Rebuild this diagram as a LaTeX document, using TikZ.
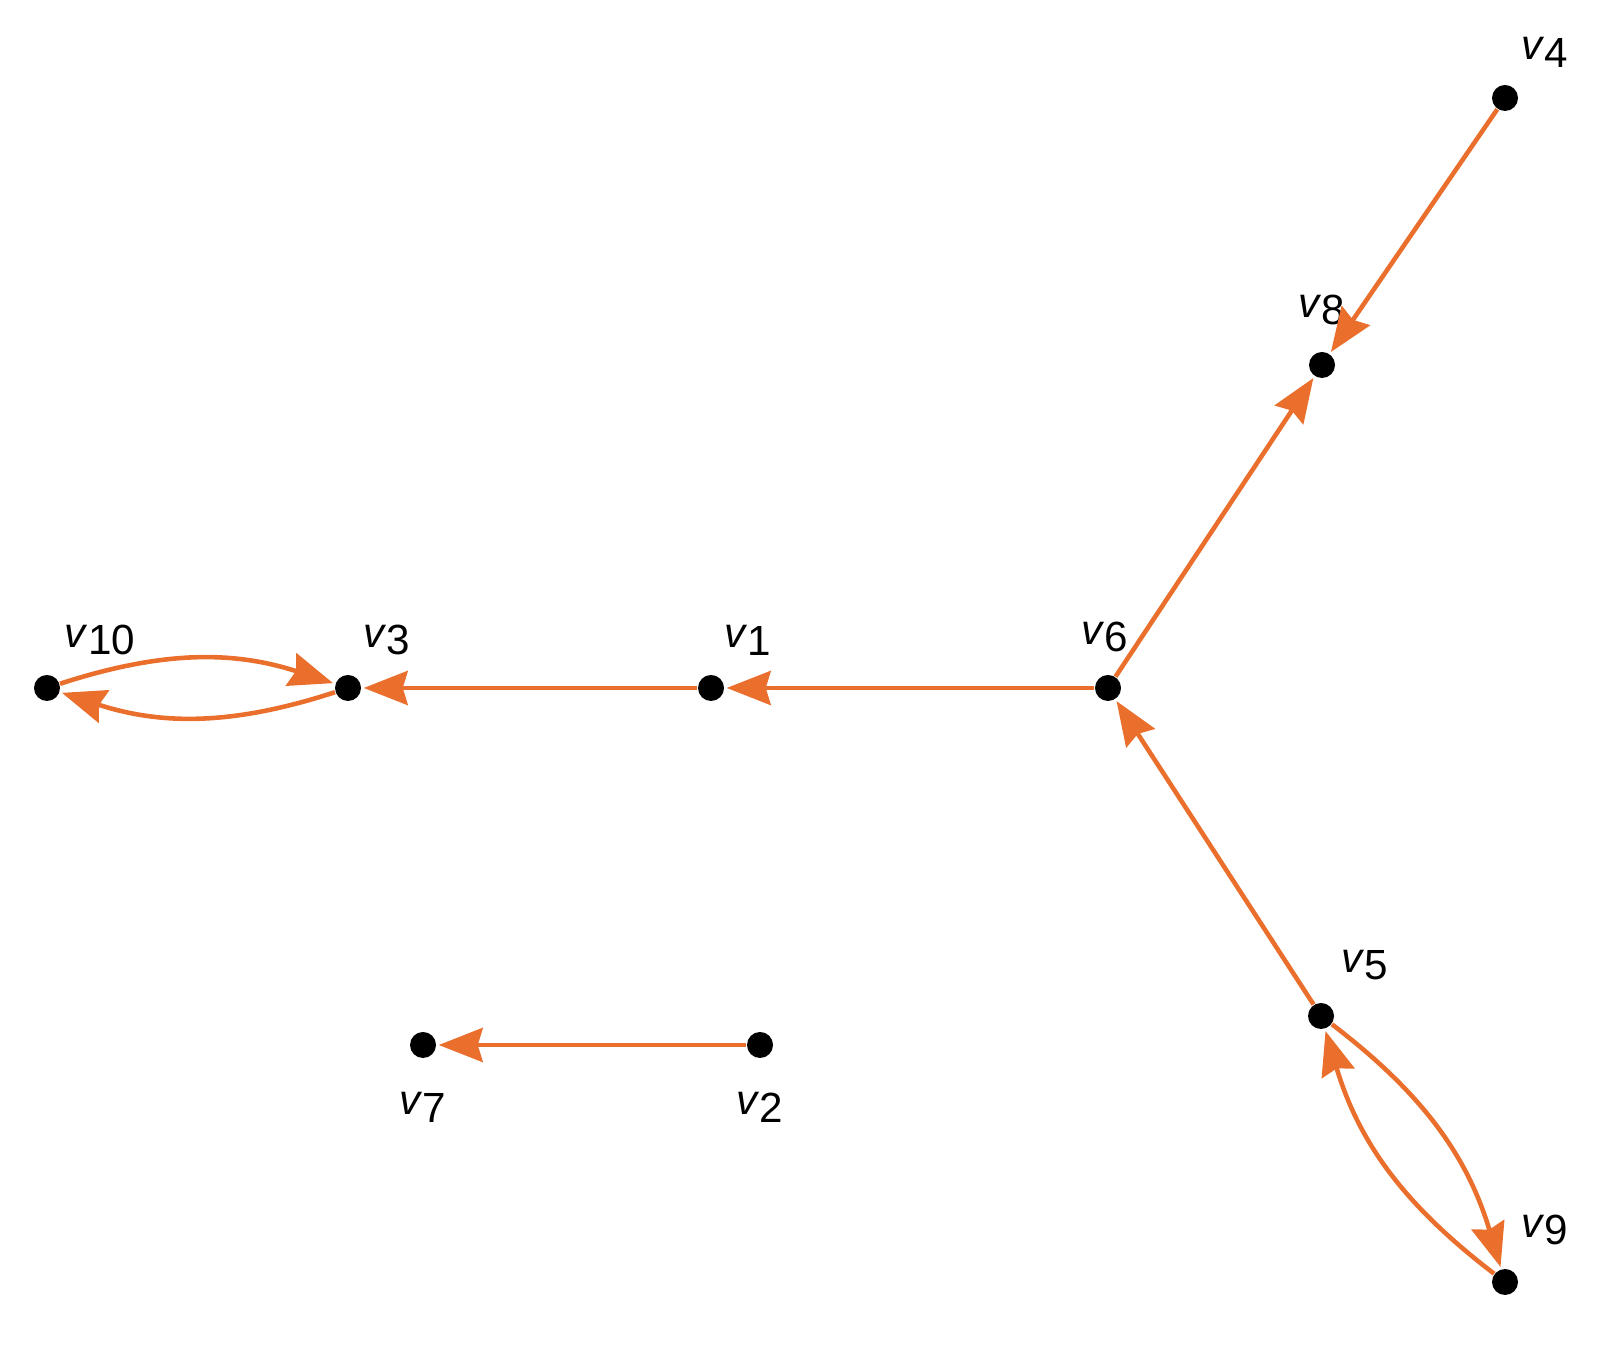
\documentclass[tikz,border=0pt]{standalone}
\usepackage{fontspec}
\setmainfont{Liberation Sans}
\usetikzlibrary{arrows.meta, positioning}

\definecolor{edgeorange}{RGB}{234,110,44}
\newcommand{\vname}[1]{\textit{v}\raisebox{-0.35ex}{#1}}

\tikzset{
  vertex/.style={circle, fill=black, inner sep=0pt, minimum size=0.26cm},
  vlabel/.style={inner sep=0pt, font=\fontsize{12}{14}\selectfont},
  arc/.style={-{Stealth[length=0.44cm, width=0.34cm, inset=0.05cm]}, line width=1.3pt, color=edgeorange, shorten >=0.02cm}
}

\begin{document}
\begin{tikzpicture}
  \useasboundingbox (0,0) rectangle (16.06,13.49);

  % vertices
  \node (v4) [vertex] at (15.05, 12.51) {};
  \node (v8) [vertex] at (13.22, 9.84) {};
  \node (v6) [vertex] at (11.08, 6.61) {};
  \node (v1) [vertex] at (7.11, 6.61) {};
  \node (v3) [vertex] at (3.48, 6.61) {};
  \node (v10) [vertex] at (0.47, 6.61) {};
  \node (v5) [vertex] at (13.21, 3.33) {};
  \node (v9) [vertex] at (15.05, 0.67) {};
  \node (v7) [vertex] at (4.23, 3.04) {};
  \node (v2) [vertex] at (7.60, 3.04) {};

  %%%%%%%%%%%%%%%%%
  \node (l4) [vlabel] at ([shift={(0.40,0.46)}]v4) {\vname{4}};
  \node (l8) [vlabel] at ([shift={(0.00,0.55)}]v8) {\vname{8}};
  \node (l6) [vlabel] at ([shift={(-0.03,0.51)}]v6) {\vname{6}};
  \node (l1) [vlabel] at ([shift={(0.37,0.48)}]v1) {\vname{1}};
  \node (l3) [vlabel] at ([shift={(0.39,0.48)}]v3) {\vname{3}};
  \node (l10) [vlabel] at ([shift={(0.53,0.48)}]v10) {\vname{10}};
  \node (l5) [vlabel] at ([shift={(0.44,0.51)}]v5) {\vname{5}};
  \node (l9) [vlabel] at ([shift={(0.40,0.52)}]v9) {\vname{9}};
  \node (l7) [vlabel] at ([shift={(0.00,-0.62)}]v7) {\vname{7}};
  \node (l2) [vlabel] at ([shift={(0.00,-0.62)}]v2) {\vname{2}};

  %%%%%%%%%%%%%%%%%
  %%%%%%%%%%%%%%%%%
  \draw [arc] (v4) to (v8);
  \draw [arc] (v6) to (v8);
  \draw [arc] (v6) to (v1);
  \draw [arc] (v1) to (v3);
  \draw [arc] (v5) to (v6);
  \draw [arc] (v2) to (v7);

  \draw [arc] (v10) to [bend left=18] (v3);
  \draw [arc] (v3) to [bend left=18] (v10);
  \draw [arc] (v5) to [bend left=18] (v9);
  \draw [arc] (v9) to [bend left=18] (v5);

\end{tikzpicture}
\end{document}
